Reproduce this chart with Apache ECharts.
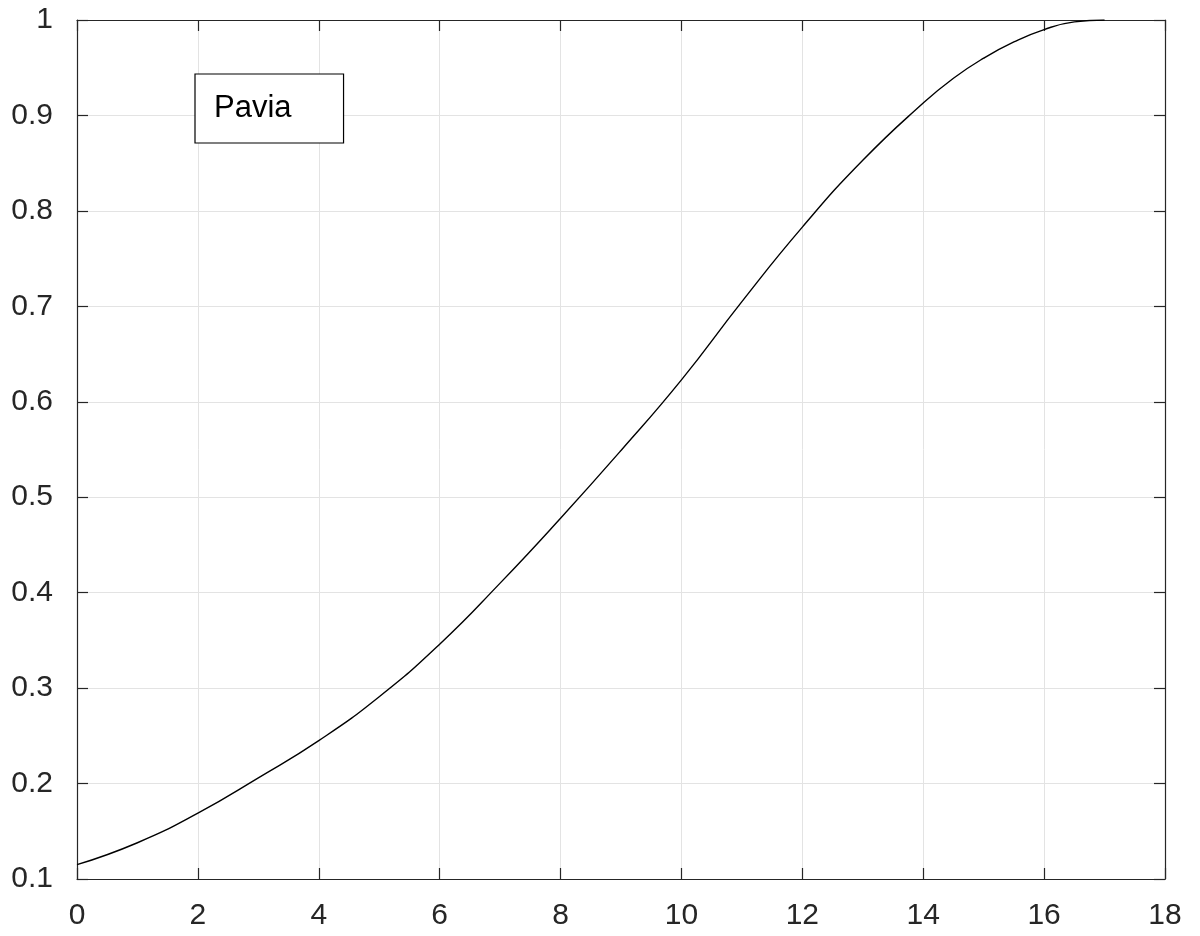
<!DOCTYPE html>
<html>
<head>
<meta charset="utf-8">
<script src="https://cdn.jsdelivr.net/npm/echarts@6/dist/echarts.min.js"></script>
<style>
html,body{margin:0;padding:0;background:#fff;}
#chart{width:1200px;height:936px;}
</style>
</head>
<body>
<div id="chart"></div>
<script>
// Data
const xValues = [0, 1, 2, 3, 4, 5, 6, 7, 8, 9, 10, 11, 12, 13, 14, 14.5, 15, 15.5, 16, 16.5, 17];
const paviaValues = [0.115, 0.138, 0.169, 0.206, 0.245, 0.291, 0.346, 0.410, 0.478, 0.549, 0.623, 0.705, 0.783, 0.853, 0.913, 0.939, 0.960, 0.977, 0.990, 0.998, 1.000];
const seriesName = 'Pavia';
const xTicks = {min: 0, max: 18, interval: 2};
const yTicks = {min: 0.1, max: 1, interval: 0.1};

const axisColor = '#262626';
const font = '"Liberation Sans", Arial, Helvetica, sans-serif';

const chart = echarts.init(document.getElementById('chart'), null, {renderer: 'canvas'});

function axisLine() { return {show: true, onZero: false, lineStyle: {color: axisColor, width: 1.2}}; }
function axisTick() { return {show: true, inside: true, length: 11, lineStyle: {color: axisColor, width: 1.2}}; }

chart.setOption({
  animation: false,
  backgroundColor: '#ffffff',
  grid: {left: 77, right: 35, top: 20, bottom: 57, containLabel: false},
  legend: {
    show: true,
    data: [{name: seriesName, icon: 'none'}],
    left: 195,
    top: 74,
    itemWidth: 0,
    itemHeight: 0,
    itemGap: 0,
    padding: [19, 52, 19, 14],
    borderColor: '#000000',
    borderWidth: 1.2,
    backgroundColor: '#ffffff',
    textStyle: {color: '#000000', fontSize: 31, fontFamily: font, padding: 0}
  },
  xAxis: [
    {
      type: 'value',
      position: 'bottom',
      min: xTicks.min, max: xTicks.max, interval: xTicks.interval,
      axisLine: axisLine(),
      axisTick: axisTick(),
      axisLabel: {color: axisColor, fontSize: 30, fontFamily: font, margin: 22},
      splitLine: {show: true, lineStyle: {color: '#e3e3e3', width: 1}}
    },
    {
      type: 'value',
      position: 'top',
      min: xTicks.min, max: xTicks.max, interval: xTicks.interval,
      axisLine: axisLine(),
      axisTick: axisTick(),
      axisLabel: {show: false},
      splitLine: {show: false}
    }
  ],
  yAxis: [
    {
      type: 'value',
      position: 'left',
      min: yTicks.min, max: yTicks.max, interval: yTicks.interval,
      axisLine: axisLine(),
      axisTick: axisTick(),
      axisLabel: {color: axisColor, fontSize: 30, fontFamily: font, margin: 24,
        formatter: v => (Math.abs(v - 1) < 1e-9 ? '1' : (Math.round(v * 10) / 10).toString())},
      splitLine: {show: true, lineStyle: {color: '#e3e3e3', width: 1}}
    },
    {
      type: 'value',
      position: 'right',
      min: yTicks.min, max: yTicks.max, interval: yTicks.interval,
      axisLine: axisLine(),
      axisTick: axisTick(),
      axisLabel: {show: false},
      splitLine: {show: false}
    }
  ],
  series: [
    {
      name: seriesName,
      type: 'line',
      xAxisIndex: 0,
      yAxisIndex: 0,
      data: xValues.map((x, i) => [x, paviaValues[i]]),
      showSymbol: false,
      symbol: 'none',
      smooth: 0.5,
      lineStyle: {color: '#000000', width: 1.4},
      itemStyle: {color: '#000000'},
      z: 5
    }
  ]
});
</script>
</body>
</html>
